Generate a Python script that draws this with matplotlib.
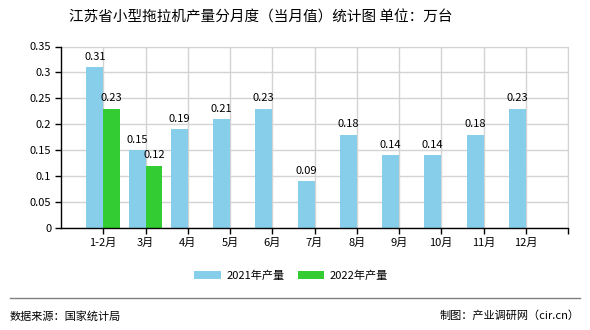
import matplotlib
matplotlib.use("Agg")
import matplotlib.pyplot as plt
from matplotlib.patches import Patch
from matplotlib.lines import Line2D
import numpy as np

plt.rcParams['font.family'] = ['Noto Sans CJK SC', 'DejaVu Sans']

title = "江苏省小型拖拉机产量分月度（当月值）统计图 单位：万台"
categories = ["1-2月", "3月", "4月", "5月", "6月", "7月", "8月", "9月", "10月", "11月", "12月"]
values_2021 = [0.31, 0.15, 0.19, 0.21, 0.23, 0.09, 0.18, 0.14, 0.14, 0.18, 0.23]
values_2022 = [0.23, 0.12]
series_names = ["2021年产量", "2022年产量"]
yticks = [0, 0.05, 0.1, 0.15, 0.2, 0.25, 0.3, 0.35]
ytick_labels = ["0", "0.05", "0.1", "0.15", "0.2", "0.25", "0.3", "0.35"]
source_text = "数据来源：国家统计局"
credit_text = "制图：产业调研网（cir.cn）"

c2021 = "#87CEEB"
c2022 = "#33CC33"

W, H = 590, 330
fig = plt.figure(figsize=(W/100, H/100), dpi=100)
ax = fig.add_axes([61/W, (H-228)/H, (568-61)/W, (228-46.5)/H])

x = np.arange(len(categories))
bw = 0.4
ax.bar(x - bw/2, values_2021, width=bw, color=c2021, zorder=3)
x2 = np.arange(len(values_2022))
ax.bar(x2 + bw/2, values_2022, width=bw, color=c2022, zorder=3)

for xi, v in zip(x, values_2021):
    ax.annotate(f"{v:.2f}", (xi - bw/2, v), xytext=(0, 4), textcoords="offset points",
                ha="center", va="bottom", fontsize=8, zorder=4)
for xi, v in zip(x2, values_2022):
    ax.annotate(f"{v:.2f}", (xi + bw/2, v), xytext=(0, 4), textcoords="offset points",
                ha="center", va="bottom", fontsize=8, zorder=4)

ax.set_xlim(-1, len(categories))
ax.set_ylim(0, 0.35)
ax.set_yticks(yticks)
ax.set_yticklabels(ytick_labels, fontsize=8)
ax.set_xticks(list(x) + [len(categories)])
ax.set_xticklabels(categories + [""], fontsize=8)
ax.tick_params(axis='both', direction='out', length=4, width=1, color='black', pad=3)

ax.grid(True, color="#d3d3d3", linewidth=1, zorder=0)
ax.set_axisbelow(True)
for s in ["top", "right"]:
    ax.spines[s].set_color("#d3d3d3")
for s in ["left", "bottom"]:
    ax.spines[s].set_color("black")
    ax.spines[s].set_linewidth(1)
    ax.spines[s].set_zorder(5)

fig.text(261/W, (H-18)/H, title, ha="center", va="center", fontsize=10.5)

handles = [Patch(facecolor=c2021, edgecolor='none'), Patch(facecolor=c2022, edgecolor='none')]
fig.legend(handles, series_names, loc="center", bbox_to_anchor=(291/W, (H-276)/H),
           ncol=2, frameon=False, fontsize=8, handlelength=2.4, handleheight=0.7,
           columnspacing=1.2, handletextpad=0.5)

fig.add_artist(Line2D([10/W, 580/W], [(H-298)/H, (H-298)/H], color="#808080", linewidth=1))
fig.text(10/W, (H-316)/H, source_text, ha="left", va="center", fontsize=8)
fig.text(580/W, (H-316)/H, credit_text, ha="right", va="center", fontsize=8)

fig.savefig("out.png", dpi=100)
